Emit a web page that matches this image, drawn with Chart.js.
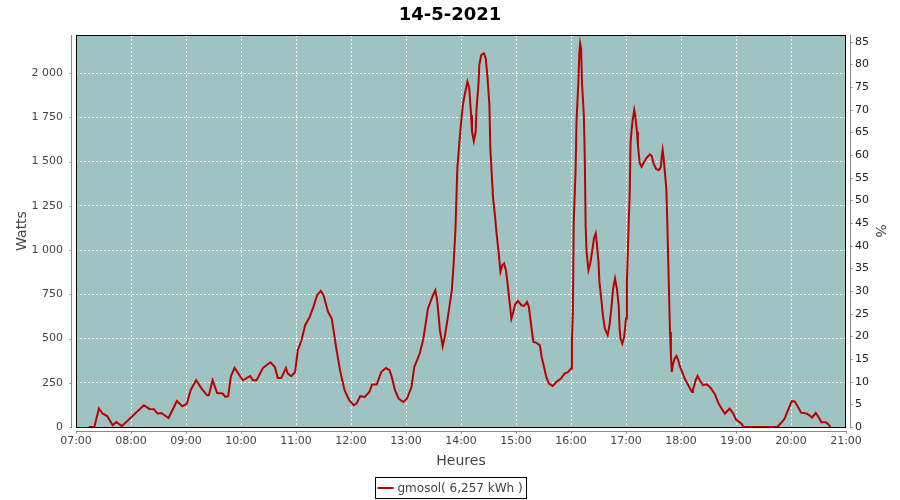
<!DOCTYPE html>
<html>
<head>
<meta charset="utf-8">
<script src="https://cdn.jsdelivr.net/npm/chart.js@4"></script>
<style>
html, body { margin: 0; padding: 0; background: #fff; }
#wrap { width: 900px; height: 500px; }
</style>
</head>
<body>
<div id="wrap"><canvas id="chart"></canvas></div>
<script>
const chartTitle = "14-5-2021";
const seriesLabel = "gmosol( 6,257 kWh )";
const hourLabels = ["07:00", "08:00", "09:00", "10:00", "11:00", "12:00", "13:00",
  "14:00", "15:00", "16:00", "17:00", "18:00", "19:00", "20:00", "21:00"];
const wattTicks = [0, 250, 500, 750, 1000, 1250, 1500, 1750, 2000];
const pctTicks = [0, 5, 10, 15, 20, 25, 30, 35, 40, 45, 50, 55, 60, 65, 70, 75, 80, 85];

// readings (time of day, watts)
const times = [
  "07:14", "07:20", "07:25", "07:29", "07:34", "07:40", "07:44", "07:50", "08:14", "08:20",
  "08:25", "08:29", "08:33", "08:41", "08:50", "08:56", "09:01", "09:05", "09:11", "09:17",
  "09:23", "09:25", "09:29", "09:34", "09:40", "09:43", "09:46", "09:49", "09:53", "10:02",
  "10:10", "10:13", "10:17", "10:24", "10:32", "10:37", "10:40", "10:44", "10:49", "10:51",
  "10:55", "10:59", "11:02", "11:06", "11:10", "11:15", "11:19", "11:23", "11:27", "11:30",
  "11:35", "11:39", "11:44", "11:48", "11:53", "11:58", "12:03", "12:06", "12:10", "12:15",
  "12:20", "12:23", "12:28", "12:33", "12:38", "12:42", "12:44", "12:48", "12:52", "12:57",
  "13:01", "13:06", "13:09", "13:15", "13:19", "13:24", "13:29", "13:32", "13:34", "13:37",
  "13:40", "13:42", "13:46", "13:50", "13:52", "13:54", "13:56", "13:58", "14:00", "14:02",
  "14:04", "14:07", "14:09", "14:11", "14:12", "14:14", "14:16", "14:17", "14:19", "14:20",
  "14:22", "14:25", "14:27", "14:29", "14:31", "14:32", "14:34", "14:35", "14:37", "14:39",
  "14:41", "14:43", "14:45", "14:47", "14:49", "14:51", "14:53", "14:55", "14:57", "14:59",
  "15:02", "15:06", "15:09", "15:12", "15:14", "15:17", "15:19", "15:22", "15:26", "15:28",
  "15:31", "15:33", "15:36", "15:40", "15:44", "15:49", "15:53", "15:57", "16:00", "16:01",
  "16:02", "16:03", "16:05", "16:06", "16:08", "16:09", "16:10", "16:11", "16:12", "16:14",
  "16:15", "16:16", "16:17", "16:19", "16:21", "16:23", "16:25", "16:27", "16:28", "16:30",
  "16:31", "16:33", "16:35", "16:37", "16:40", "16:42", "16:44", "16:46", "16:48", "16:50",
  "16:52", "16:53", "16:54", "16:56", "16:58", "17:00", "17:01", "17:02", "17:03", "17:04",
  "17:05", "17:07", "17:09", "17:10", "17:12", "17:13", "17:15", "17:17", "17:19", "17:22",
  "17:26", "17:28", "17:30", "17:33", "17:36", "17:38", "17:39", "17:40", "17:41", "17:42",
  "17:44", "17:45", "17:46", "17:47", "17:48", "17:49", "17:50", "17:51", "17:53", "17:55",
  "17:57", "17:59", "18:02", "18:04", "18:06", "18:09", "18:12", "18:13", "18:16", "18:18",
  "18:21", "18:24", "18:28", "18:32", "18:37", "18:41", "18:45", "18:48", "18:53", "18:57",
  "19:00", "19:06", "19:08", "19:45", "19:50", "19:53", "19:56", "19:59", "20:01", "20:04",
  "20:08", "20:11", "20:17", "20:20", "20:23", "20:27", "20:30", "20:33", "20:38", "20:41",
  "20:43"
];
const watts = [
  0, 0, 104, 76, 62, 10, 28, 5, 123, 102,
  100, 76, 79, 51, 147, 117, 132, 208, 264, 217,
  179, 180, 264, 192, 189, 170, 174, 287, 334, 264,
  288, 264, 264, 334, 366, 339, 277, 277, 334, 302,
  287, 311, 434, 490, 575, 622, 679, 745, 769, 745,
  650, 613, 443, 321, 208, 151, 123, 132, 174, 170,
  198, 240, 240, 311, 334, 321, 292, 208, 160, 141,
  160, 226, 339, 415, 500, 670, 739, 773, 717, 547,
  456, 500, 632, 773, 924, 1122, 1461, 1593, 1716, 1819,
  1876, 1951, 1914, 1763, 1668, 1616, 1668, 1801, 1932, 2045,
  2102, 2112, 2083, 1970, 1819, 1574, 1385, 1292, 1197, 1084,
  990, 877, 914, 924, 886, 801, 707, 613, 650, 692,
  713, 688, 684, 707, 679, 556, 481, 477, 462, 396,
  330, 283, 245, 232, 254, 274, 302, 311, 330, 481,
  650, 1159, 1452, 1725, 1942, 2102, 2168, 2140, 1942, 1763,
  1536, 1131, 990, 886, 924, 990, 1065, 1094, 1046, 933,
  820, 726, 622, 556, 519, 575, 670, 783, 839, 783,
  688, 556, 500, 472, 509, 613, 820, 990, 1159, 1310,
  1612, 1725, 1791, 1763, 1668, 1593, 1490, 1470, 1490, 1518,
  1540, 1532, 1490, 1457, 1452, 1470, 1527, 1565, 1521, 1461,
  1348, 1169, 961, 745, 537, 405, 311, 349, 387, 401,
  377, 339, 302, 274, 254, 226, 198, 208, 264, 288,
  260, 236, 241, 223, 185, 132, 98, 76, 104, 76,
  42, 19, 0, 0, 28, 47, 85, 123, 147, 145,
  110, 81, 76, 66, 53, 79, 57, 27, 27, 14,
  0
];

const wattMax = 2215;
const pctMax = 86.5;

function toMinutes(t) {
  const p = t.split(":");
  return (parseInt(p[0]) - 7) * 60 + parseInt(p[1]);
}

const points = times.map((t, i) => ({ x: toMinutes(t), y: watts[i] }));

function spaced(v) {
  return String(v).replace(/\B(?=(\d{3})+(?!\d))/g, " ");
}

// plot background, frame, offset axis lines, ticks and boxed legend
const plotFrame = {
  id: "plotFrame",
  beforeDraw(chart) {
    const ctx = chart.ctx;
    const a = chart.chartArea;
    ctx.save();
    ctx.fillStyle = "#fff";
    ctx.fillRect(0, 0, chart.width, chart.height);
    ctx.fillStyle = "#9ec3c2";
    ctx.fillRect(a.left, a.top, a.right - a.left, a.bottom - a.top);
    ctx.restore();
  },
  afterDraw(chart) {
    const ctx = chart.ctx;
    const a = chart.chartArea;
    const sx = chart.scales.x, sy = chart.scales.y, sp = chart.scales.pct;
    ctx.save();
    ctx.strokeStyle = "#000";
    ctx.lineWidth = 1;
    ctx.strokeRect(a.left + 0.5, a.top + 0.5, a.right - a.left - 1, a.bottom - a.top);

    ctx.strokeStyle = "#888";
    ctx.beginPath();
    const lx = a.left - 4.5, rx = a.right + 4.5, by = a.bottom + 4.5;
    ctx.moveTo(lx, a.top); ctx.lineTo(lx, a.bottom + 1);
    ctx.moveTo(rx, a.top); ctx.lineTo(rx, a.bottom + 1);
    ctx.moveTo(a.left, by); ctx.lineTo(a.right + 1, by);
    sy.ticks.forEach(t => {
      const py = Math.round(sy.getPixelForValue(t.value)) + 0.5;
      ctx.moveTo(lx - 2, py); ctx.lineTo(lx, py);
    });
    sp.ticks.forEach(t => {
      const py = Math.round(sp.getPixelForValue(t.value)) + 0.5;
      ctx.moveTo(rx, py); ctx.lineTo(rx + 2, py);
    });
    sx.ticks.forEach(t => {
      const px = Math.round(sx.getPixelForValue(t.value)) + 0.5;
      ctx.moveTo(px, by); ctx.lineTo(px, by + 2);
    });
    ctx.stroke();

    // legend
    ctx.font = "12px 'DejaVu Sans'";
    const tw = ctx.measureText(seriesLabel).width;
    const bw = Math.round(tw + 26), bh = 21;
    const bx = Math.round(chart.width / 2 - bw / 2) + 0.5, bt = 477.5;
    ctx.strokeStyle = "#000";
    ctx.strokeRect(bx, bt, bw, bh);
    ctx.strokeStyle = "#b80000";
    ctx.lineWidth = 2;
    ctx.beginPath();
    ctx.moveTo(bx + 2, bt + 10.5); ctx.lineTo(bx + 18, bt + 10.5);
    ctx.stroke();
    ctx.fillStyle = "#444";
    ctx.textBaseline = "middle";
    ctx.fillText(seriesLabel, bx + 22, bt + 11);
    ctx.restore();
  }
};

new Chart(document.getElementById("chart"), {
  type: "line",
  data: {
    datasets: [{
      label: seriesLabel,
      data: points,
      borderColor: "#bb0000",
      borderWidth: 2,
      pointRadius: 0,
      tension: 0,
      fill: false,
      yAxisID: "y"
    }]
  },
  options: {
    responsive: true,
    maintainAspectRatio: false,
    animation: false,
    devicePixelRatio: 1,
    layout: { padding: { left: 0, right: 0, top: 0, bottom: 28 } },
    plugins: {
      legend: { display: false },
      tooltip: { enabled: false },
      title: {
        display: true,
        text: chartTitle,
        color: "#000",
        font: { family: "DejaVu Sans", size: 18, weight: "bold" },
        padding: { top: 5, bottom: 8.4 }
      }
    },
    scales: {
      x: {
        type: "linear",
        min: 0,
        max: 840,
        afterFit(s) { s.height = 45; },
        afterBuildTicks(s) { s.ticks = hourLabels.map((h, i) => ({ value: i * 60 })); },
        ticks: {
          padding: 8,
          maxRotation: 0,
          autoSkip: false,
          color: "#444",
          font: { family: "DejaVu Sans", size: 11 },
          callback: v => hourLabels[Math.round(v / 60)]
        },
        grid: { color: "#fff", lineWidth: 1, drawTicks: false },
        border: { display: false, dash: [2, 2] },
        title: {
          display: true,
          text: "Heures",
          color: "#444",
          font: { family: "DejaVu Sans", size: 14 },
          padding: { top: 0, bottom: 2 }
        }
      },
      y: {
        position: "left",
        min: 0,
        max: wattMax,
        afterFit(s) { s.width = 76; },
        afterBuildTicks(s) { s.ticks = wattTicks.map(v => ({ value: v })); },
        ticks: {
          padding: 13,
          autoSkip: false,
          color: "#444",
          font: { family: "DejaVu Sans", size: 11 },
          callback: v => spaced(v)
        },
        grid: { color: "#fff", lineWidth: 1, drawTicks: false },
        border: { display: false, dash: [2, 2] },
        title: {
          display: true,
          text: "Watts",
          color: "#444",
          font: { family: "DejaVu Sans", size: 14 },
          padding: { top: 14, bottom: 0 }
        }
      },
      pct: {
        position: "right",
        min: 0,
        max: pctMax,
        afterFit(s) { s.width = 54; },
        afterBuildTicks(s) { s.ticks = pctTicks.map(v => ({ value: v })); },
        ticks: {
          padding: 9,
          autoSkip: false,
          color: "#222",
          font: { family: "DejaVu Sans", size: 11 }
        },
        grid: { display: false, drawOnChartArea: false, drawTicks: false },
        border: { display: false },
        title: {
          display: true,
          text: "%",
          color: "#444",
          font: { family: "DejaVu Sans", size: 14 },
          padding: { top: 12, bottom: 0 }
        }
      }
    }
  },
  plugins: [plotFrame]
});
</script>
</body>
</html>
